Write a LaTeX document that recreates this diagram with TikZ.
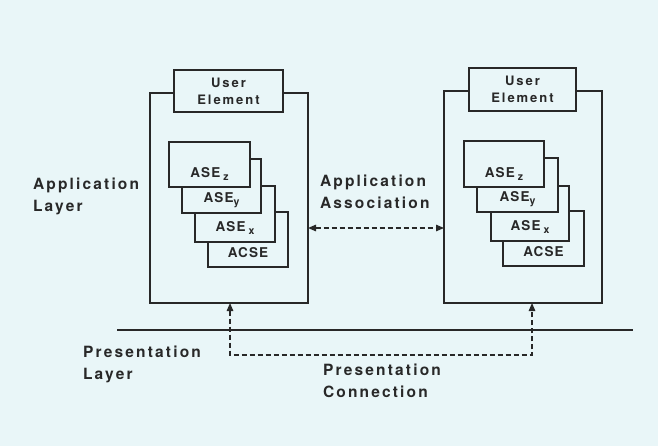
\documentclass[tikz,border=0pt]{standalone}
\usepackage{fontspec}
\setmainfont{TeX Gyre Heros}
\usetikzlibrary{arrows.meta}
\definecolor{bg}{RGB}{233,246,248}
\definecolor{ink}{RGB}{40,40,40}
\newcommand{\subl}[1]{\raisebox{-3.5pt}{\fontsize{10.5}{10.5}\selectfont #1}}
\begin{document}
\begin{tikzpicture}[x=1pt,y=-1pt,
  every node/.style={inner sep=0pt,outer sep=0pt,text=ink,font=\bfseries},
  outerbox/.style={draw=ink,line width=1.1pt,fill=none},
  innerbox/.style={draw=ink,line width=2.3pt,fill=bg},
  uetext/.style={font=\bfseries\addfontfeatures{LetterSpace=15}\fontsize{13}{17}\selectfont,align=center},
  boxtext/.style={font=\bfseries\addfontfeatures{LetterSpace=8}\fontsize{13.5}{17}\selectfont,align=center},
  bigtext/.style={font=\bfseries\addfontfeatures{LetterSpace=14}\fontsize{15.5}{22}\selectfont,align=left,anchor=west},
  dashline/.style={draw=ink,line width=1.3pt,dash pattern=on 5pt off 3pt,
     arrows={Triangle[length=8pt,width=6.5pt]-Triangle[length=8pt,width=6.5pt]}},
  layerline/.style={draw=ink,line width=1.4pt}]
\fill[bg] (0,0) rectangle (658,446);
\useasboundingbox (0,0) rectangle (658,446);

% left stack
\node[outerbox,minimum width=158pt,minimum height=210pt] (lo) at (229,198) {};
\node[innerbox,minimum width=109pt,minimum height=42pt] (lue) at (228.5,91) {};
\node[uetext] (luet) at (lue) {User\\Element};
\node[innerbox,minimum width=80pt,minimum height=55pt] (lacse) at (248,239.5) {};
\node[boxtext] (lacset) at ([yshift=14pt]lacse.south) {ACSE};
\node[innerbox,minimum width=80pt,minimum height=56pt] (lx) at (235,214) {};
\node[boxtext] (lxt) at ([yshift=14pt]lx.south) {ASE\hspace{3pt}\subl{x}};
\node[innerbox,minimum width=79pt,minimum height=54pt] (ly) at (221.5,186) {};
\node[boxtext] (lyt) at ([yshift=13pt]ly.south) {ASE\subl{y}};
\node[innerbox,minimum width=81pt,minimum height=45pt] (lz) at (209.5,164.5) {};
\node[boxtext] (lzt) at ([yshift=13pt]lz.south) {ASE\hspace{3pt}\subl{z}};

% right stack
\node[outerbox,minimum width=158pt,minimum height=212pt] (ro) at (523,197) {};
\node[innerbox,minimum width=107pt,minimum height=43pt] (rue) at (522.5,89.5) {};
\node[uetext] (ruet) at (rue) {User\\Element};
\node[innerbox,minimum width=81pt,minimum height=55pt] (racse) at (543.5,238.5) {};
\node[boxtext] (racset) at ([yshift=14pt]racse.south) {ACSE};
\node[innerbox,minimum width=78pt,minimum height=55pt] (rx) at (530,213.5) {};
\node[boxtext] (rxt) at ([yshift=14pt]rx.south) {ASE\hspace{3pt}\subl{x}};
\node[innerbox,minimum width=81pt,minimum height=54pt] (ry) at (517.5,185) {};
\node[boxtext] (ryt) at ([yshift=13pt]ry.south) {ASE\subl{y}};
\node[innerbox,minimum width=80pt,minimum height=46pt] (rz) at (504,164) {};
\node[boxtext] (rzt) at ([yshift=13pt]rz.south) {ASE\hspace{3pt}\subl{z}};

% labels
\node[bigtext] (applayer) at (33,196) {Application\\Layer};
\node[bigtext] (appassoc) at (320,192) {Application\\Association};
\node[bigtext] (preslayer) at (83,364) {Presentation\\Layer};
\node[bigtext] (presconn) at (323,381) {Presentation\\Connection};

% association arrow
\coordinate (assocy) at (0,228);
\draw[dashline] (lo.east |- assocy) -- (ro.west |- assocy);

% layer boundary
\coordinate (ll) at (117,330);
\coordinate (lr) at (633,330);
\draw[layerline] (ll) -- (lr);

% presentation connection
\coordinate (pl) at (230,355);
\coordinate (pr) at (532,355);
\draw[dashline] (lo.south -| pl) -- (pl) -- (pr) -- (ro.south -| pr);
\end{tikzpicture}
\end{document}
